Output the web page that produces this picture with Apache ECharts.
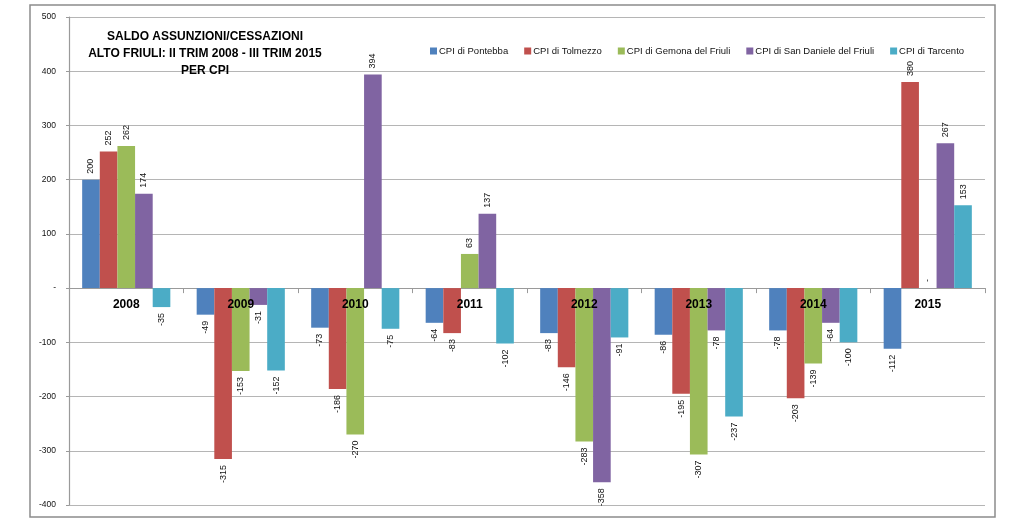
<!DOCTYPE html>
<html><head><meta charset="utf-8">
<script src="https://cdn.jsdelivr.net/npm/echarts@6/dist/echarts.min.js"></script>
<style>html,body{margin:0;padding:0;background:#fff}#c{width:1033px;height:530px}</style>
</head><body><div id="c"></div>
<script>
const categories = ['2008','2009','2010','2011','2012','2013','2014','2015'];
const seriesNames = ['CPI di Pontebba','CPI di Tolmezzo','CPI di Gemona del Friuli','CPI di San Daniele del Friuli','CPI di Tarcento'];
const pontebba   = [200, -49, -73, -64, -83, -86, -78, -112];
const tolmezzo   = [252, -315, -186, -83, -146, -195, -203, 380];
const gemona     = [262, -153, -270, 63, -283, -307, -139, 0];
const sanDaniele = [174, -31, 394, 137, -358, -78, -64, 267];
const tarcento   = [-35, -152, -75, -102, -91, -237, -100, 153];
const colors = ['#4F81BD','#C0504D','#9BBB59','#8064A2','#4BACC6'];
const allValues = [pontebba, tolmezzo, gemona, sanDaniele, tarcento];
const FONT = '"Liberation Sans", Arial, sans-serif';

const chart = echarts.init(document.getElementById('c'));
const series = allValues.map((vals, i) => ({
  name: seriesNames[i],
  type: 'bar',
  xAxisIndex: 0,
  barGap: '0%',
  barCategoryGap: '23%',
  itemStyle: { color: colors[i] },
  data: vals.map(v => ({
    value: v,
    label: {
      show: true,
      rotate: 90,
      position: v >= 0 ? 'top' : 'bottom',
      align: v >= 0 ? 'left' : 'right',
      verticalAlign: 'middle',
      distance: 6,
      fontSize: 9,
      fontFamily: FONT,
      color: '#111',
      formatter: p => p.value === 0 ? '-' : String(p.value)
    }
  }))
}));

chart.setOption({
  animation: false,
  textStyle: { fontFamily: FONT },
  graphic: [{
    type: 'rect', shape: { x: 30, y: 5, width: 965, height: 512 },
    style: { fill: 'none', stroke: '#8c8c8c', lineWidth: 1.5 }, silent: true
  }],
  title: {
    text: 'SALDO ASSUNZIONI/CESSAZIONI\nALTO FRIULI: II TRIM 2008 - III TRIM 2015\nPER CPI',
    left: 200, top: 23, textAlign: 'center',
    textStyle: { fontSize: 12, fontWeight: 'bold', lineHeight: 17, color: '#000', fontFamily: FONT }
  },
  legend: {
    left: 425, top: 41, itemWidth: 7, itemHeight: 7, itemGap: 16, icon: 'rect',
    textStyle: { fontSize: 9.5, color: '#111', fontFamily: FONT, padding: [0,0,0,-3] },
    data: seriesNames
  },
  grid: { left: 69, right: 48, top: 17, bottom: 25 },
  xAxis: [{
    type: 'category', data: categories,
    axisLine: { onZero: true, lineStyle: { color: '#9a9a9a', width: 1.2 } },
    axisTick: { show: true, length: 5, inside: false, lineStyle: { color: '#9a9a9a' } },
    axisLabel: { show: false },
    splitLine: { show: false }
  }, {
    type: 'category', data: categories, position: 'bottom', offset: -217, z: 20,
    axisLine: { show: false }, axisTick: { show: false },
    axisLabel: { fontSize: 12, fontWeight: 'bold', color: '#000', margin: 11, fontFamily: FONT },
    splitLine: { show: false }
  }],
  yAxis: {
    type: 'value', min: -400, max: 500, interval: 100,
    axisLine: { show: true, lineStyle: { color: '#9a9a9a', width: 1.2 } },
    axisTick: { show: true, length: 3, lineStyle: { color: '#9a9a9a' } },
    axisLabel: { fontSize: 8.5, color: '#111', margin: 13, fontFamily: FONT,
      formatter: v => v === 0 ? '-' : String(v) },
    splitLine: { show: true, lineStyle: { color: '#b5b5b5', width: 1.2 } }
  },
  series: series
});
</script></body></html>
